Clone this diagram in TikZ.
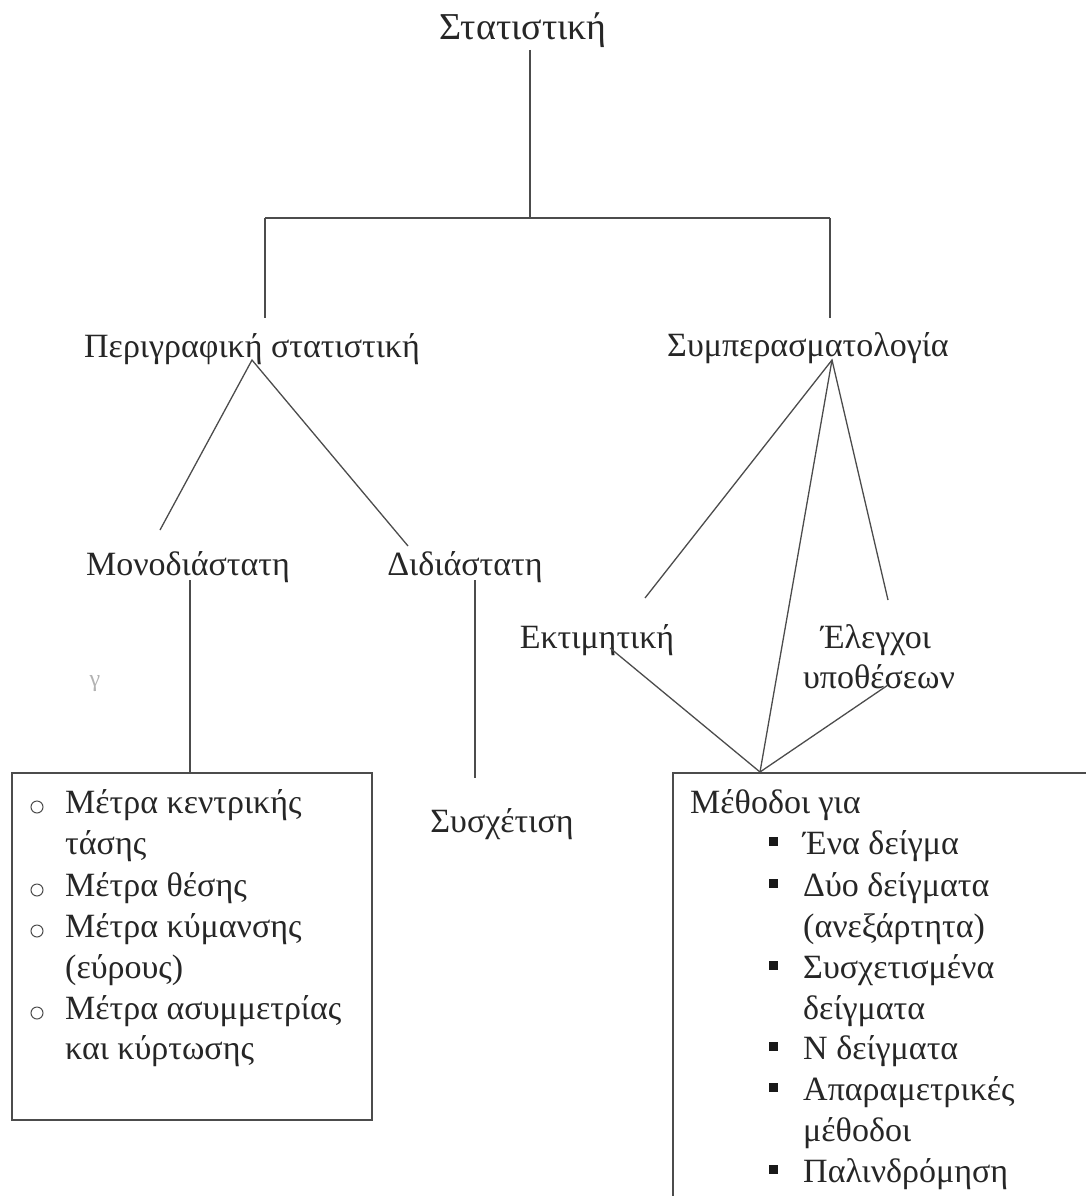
\documentclass[tikz,border=0pt]{standalone}
\usepackage{fontspec}
\setmainfont{Liberation Serif}
\tikzset{
  lbl/.style={inner sep=0pt, font=\fontsize{34}{40}\selectfont, text=black!85},
  conn/.style={draw=black!70, line width=1.3pt},
  frame/.style={draw=black!70, line width=1.6pt},
  cbul/.style={circle, draw=black!70, line width=1pt, minimum size=12pt, inner sep=0pt},
  sbul/.style={fill=black!90, minimum size=9pt, inner sep=0pt},
}
\begin{document}
\begin{tikzpicture} [x=1pt, y=-1pt]
    \useasboundingbox (0,0) rectangle (1086,1196);
    \node[lbl, anchor=base, font=\fontsize{38}{40}\selectfont] (stat) at (523, 40) {Στατιστική};
    \node[lbl, anchor=base] (perig) at (252, 357) {Περιγραφική στατιστική};
    \node[lbl, anchor=base] (sympe) at (808, 356) {Συμπερασματολογία};
    \node[lbl, anchor=base] (mono) at (188, 575) {Μονοδιάστατη};
    \node[lbl, anchor=base] (didi) at (465, 575) {Διδιάστατη};
    \node[lbl, anchor=base] (ektim) at (597, 648) {Εκτιμητική};
    \node[lbl, anchor=base] (elen) at (876, 648) {Έλεγχοι};
    \node[lbl, anchor=base] (ypoth) at (879, 688) {υποθέσεων};
    \node[lbl, anchor=base] (sysx) at (502, 832) {Συσχέτιση};
    \node[lbl, anchor=base, text=black!30, font=\fontsize{24}{26}\selectfont] (stray) at (95, 686) {γ};
    % left box
    \coordinate (lb1) at (12, 773);
    \coordinate (lb2) at (372, 1120);
    \draw[frame] (lb1) rectangle (lb2);
    \node[cbul] (c1) at (37, 807) {};
    \node[cbul] (c2) at (37, 890) {};
    \node[cbul] (c3) at (37, 931) {};
    \node[cbul] (c4) at (37, 1013) {};
    \node[lbl, anchor=base west] (l1) at (65, 813) {Μέτρα κεντρικής};
    \node[lbl, anchor=base west] (l2) at (65, 854) {τάσης};
    \node[lbl, anchor=base west] (l3) at (65, 896) {Μέτρα θέσης};
    \node[lbl, anchor=base west] (l4) at (65, 937) {Μέτρα κύμανσης};
    \node[lbl, anchor=base west] (l5) at (65, 978) {(εύρους)};
    \node[lbl, anchor=base west] (l6) at (65, 1019) {Μέτρα ασυμμετρίας};
    \node[lbl, anchor=base west] (l7) at (65, 1059) {και κύρτωσης};
    % right box
    \coordinate (rb1) at (673, 1210);
    \coordinate (rb2) at (673, 773);
    \coordinate (rb3) at (1100, 773);
    \draw[frame] (rb1) -- (rb2) -- (rb3);
    \node[lbl, anchor=base west] (meth) at (690, 813) {Μέθοδοι για};
    \node[sbul] (s1) at (773, 841) {};
    \node[sbul] (s2) at (773, 883) {};
    \node[sbul] (s3) at (773, 965) {};
    \node[sbul] (s4) at (773, 1046) {};
    \node[sbul] (s5) at (773, 1087) {};
    \node[sbul] (s6) at (773, 1169) {};
    \node[lbl, anchor=base west] (r1) at (803, 854) {Ένα δείγμα};
    \node[lbl, anchor=base west] (r2) at (803, 896) {Δύο δείγματα};
    \node[lbl, anchor=base west] (r3) at (803, 937) {(ανεξάρτητα)};
    \node[lbl, anchor=base west] (r4) at (803, 978) {Συσχετισμένα};
    \node[lbl, anchor=base west] (r5) at (803, 1019) {δείγματα};
    \node[lbl, anchor=base west] (r6) at (803, 1059) {Ν δείγματα};
    \node[lbl, anchor=base west] (r7) at (803, 1100) {Απαραμετρικές};
    \node[lbl, anchor=base west] (r8) at (803, 1141) {μέθοδοι};
    \node[lbl, anchor=base west] (r9) at (803, 1182) {Παλινδρόμηση};
    % connectors
    \coordinate (t1) at (530, 50);
    \coordinate (t2) at (530, 218);
    \coordinate (hl) at (265, 218);
    \coordinate (hr) at (830, 218);
    \coordinate (pl) at (265, 318);
    \coordinate (pr) at (830, 318);
    \coordinate (pa) at (252, 360);
    \coordinate (ma) at (160, 530);
    \coordinate (da) at (408, 546);
    \coordinate (mb) at (190, 580);
    \coordinate (mc) at (190, 773);
    \coordinate (db) at (475, 580);
    \coordinate (dc) at (475, 778);
    \coordinate (sa) at (832, 360);
    \coordinate (ea) at (645, 598);
    \coordinate (ga) at (888, 600);
    \coordinate (eb) at (610, 648);
    \coordinate (gb) at (888, 685);
    \coordinate (mt) at (760, 772);
    \draw[conn] (t1) -- (t2);
    \draw[conn] (hl) -- (hr);
    \draw[conn] (hl) -- (pl);
    \draw[conn] (hr) -- (pr);
    \draw[conn] (ma) -- (pa) -- (da);
    \draw[conn] (mb) -- (mc);
    \draw[conn] (db) -- (dc);
    \draw[conn] (ea) -- (sa) -- (ga);
    \draw[conn] (sa) -- (mt);
    \draw[conn] (eb) -- (mt) -- (gb);
\end{tikzpicture}
\end{document}
